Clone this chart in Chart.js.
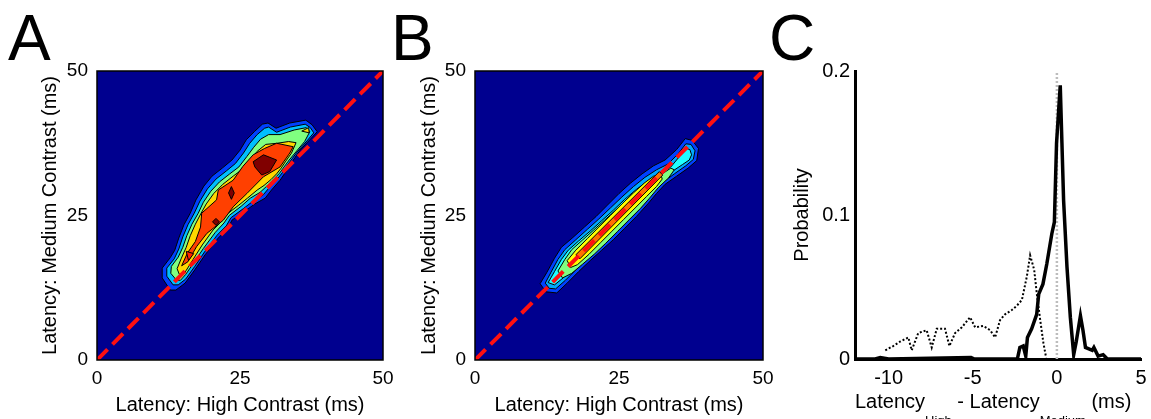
<!DOCTYPE html>
<html>
<head>
<meta charset="utf-8">
<script src="https://cdn.jsdelivr.net/npm/chart.js@4.4.1/dist/chart.umd.min.js"></script>
<style>
html, body { margin: 0; padding: 0; background: #fff; }
#wrap { position: relative; width: 1151px; height: 419px; overflow: hidden; font-family: "Liberation Sans", Arial, sans-serif; color: #000; }
canvas { position: absolute; top: 0; }
.letter { position: absolute; top: 6px; font-size: 64px; line-height: 64px; }
#cLabel { position: absolute; left: 855px; top: 391px; font-size: 20px; line-height: 20px; white-space: nowrap; }
#cLabel sub { font-size: 13px; vertical-align: -17px; }
</style>
</head>
<body>
<div id="wrap">
  <canvas id="chartA" width="401" height="419" style="left:0"></canvas>
  <canvas id="chartB" width="401" height="419" style="left:380px"></canvas>
  <canvas id="chartC" width="394" height="419" style="left:760px"></canvas>
  <div class="letter" style="left:8px">A</div>
  <div class="letter" style="left:391px">B</div>
  <div class="letter" style="left:769px">C</div>
  <div id="cLabel">Latency<sub>High</sub> - Latency<sub>Medium</sub> (ms)</div>
</div>
<script>
// ---- data ----
const latencyTicks = [0, 25, 50];
const diagonal = [[0, 0], [50, 50]];

// panel A contour levels (outer -> inner), [high, medium] in ms
const aBlue = [[12.8,12.1],[11.4,14.2],[11.4,15.9],[12.8,17.7],[13.6,19.0],[14.3,21.1],[15.2,23.4],[16.3,25.4],[17.3,27.7],[18.7,30.1],[20.1,31.8],[21.9,33.2],[23.6,34.6],[25.0,36.3],[26.1,38.1],[27.5,39.5],[28.9,40.8],[29.9,41.0],[31.3,40.1],[33.7,41.0],[36.5,41.5],[37.6,40.7],[38.5,39.5],[37.2,38.1],[35.5,36.3],[34.6,35.0],[33.7,33.7],[32.9,32.4],[32.0,31.1],[30.5,29.4],[29.4,28.0],[27.6,27.0],[25.9,25.8],[23.6,24.2],[22.9,22.8],[21.2,21.1],[18.9,18.2],[17.1,15.6],[15.4,13.3],[13.8,12.1]];
const aLightBlue = [[13.3,13.0],[12.2,14.5],[12.2,15.9],[13.5,17.5],[14.3,19.2],[15.0,21.3],[15.9,23.4],[17.0,25.4],[18.0,27.5],[19.3,29.6],[20.8,31.3],[22.6,32.7],[24.2,34.0],[25.6,35.8],[26.7,37.5],[28.0,39.0],[29.3,40.1],[30.0,40.3],[31.4,39.4],[33.8,40.3],[36.4,40.8],[37.3,40.2],[37.9,39.3],[36.7,37.9],[35.0,36.0],[34.1,34.8],[33.2,33.6],[32.4,32.4],[31.5,31.3],[30.1,29.8],[29.0,28.5],[27.3,27.5],[25.6,26.2],[23.4,24.6],[22.6,23.2],[21.0,21.6],[18.8,18.7],[17.1,16.2],[15.5,14.0],[14.2,13.0]];
const aGreen = [[13.9,13.8],[12.9,15.0],[13.0,16.2],[14.2,17.8],[15.0,19.5],[15.7,21.5],[16.6,23.5],[17.7,25.4],[18.6,27.3],[19.9,29.2],[21.4,30.8],[23.2,32.2],[24.8,33.4],[26.2,35.2],[27.4,36.8],[28.6,38.2],[30.0,39.0],[32.0,39.0],[34.5,39.8],[36.6,40.2],[37.2,39.5],[36.3,37.8],[34.6,35.8],[33.6,34.6],[32.7,33.4],[31.9,32.3],[31.0,31.4],[29.7,30.1],[28.5,29.0],[26.8,28.0],[25.2,26.6],[23.1,25.0],[22.2,23.7],[20.7,22.1],[18.6,19.3],[16.9,16.8],[15.5,14.8],[14.6,13.8]];
const aYellow = [[14.4,14.8],[14.0,15.8],[14.7,17.5],[15.6,19.5],[16.3,21.5],[17.2,23.5],[18.2,25.4],[19.1,27.0],[20.4,28.8],[22.0,30.4],[23.8,31.8],[25.4,33.0],[26.8,34.6],[28.0,36.1],[29.5,37.3],[31.5,37.5],[33.5,37.8],[34.8,37.6],[34.0,35.8],[33.0,34.4],[32.2,33.2],[31.4,32.2],[30.4,31.2],[29.2,30.2],[28.0,29.4],[26.3,28.0],[24.8,26.8],[22.8,25.3],[21.8,24.0],[20.3,22.5],[18.4,19.9],[16.8,17.4],[15.4,15.2]];
const aYellowTip = [[35.8,39.6],[37.0,40.2],[37.1,39.3]];
const aRed = [[14.8,16.3],[15.8,18.5],[17.2,20.5],[18.1,23.0],[18.3,25.4],[20.9,27.7],[21.2,29.4],[23.8,31.1],[25.5,33.5],[27.3,35.5],[29.3,36.6],[31.4,37.5],[34.3,36.9],[33.7,35.8],[32.0,33.4],[29.1,31.7],[26.2,28.8],[23.8,26.5],[22.1,24.2],[19.2,21.9],[17.4,19.6],[15.9,17.0]];
const aRedSpot = [[15.6,18.8],[16.9,18.4],[16.0,17.2]];
const aDarkPeak = [[27.3,34.3],[29.1,35.5],[31.4,34.6],[30.2,32.6],[28.8,32.0],[27.6,33.4]];
const aDarkSpot1 = [[23.5,30.0],[24.0,28.9],[23.5,27.8],[23.0,28.9]];
const aDarkSpot2 = [[20.8,24.5],[21.4,23.9],[20.8,23.3],[20.2,23.9]];

// panel B contour levels
const bBlue = [[11.3,13.2],[12.5,15.2],[13.8,17.6],[15.0,19.5],[17.0,21.2],[19.0,23.0],[21.0,24.8],[23.0,26.8],[25.0,28.8],[27.0,30.6],[29.0,32.2],[31.0,33.6],[33.0,34.6],[35.0,36.4],[36.5,38.3],[37.7,38.0],[38.8,36.6],[38.5,34.5],[37.0,33.2],[35.0,31.8],[33.0,30.4],[31.5,28.8],[30.0,27.0],[28.0,24.8],[26.0,22.8],[24.0,20.8],[22.0,19.0],[20.0,17.2],[18.0,15.3],[16.0,13.3],[14.2,11.6],[12.3,11.8]];
const bLightBlue = [[12.2,13.3],[13.2,15.2],[14.4,17.4],[15.6,19.1],[17.5,20.8],[19.5,22.6],[21.5,24.4],[23.5,26.3],[25.5,28.2],[27.5,30.0],[29.5,31.6],[31.5,32.9],[33.5,33.9],[35.3,35.7],[36.6,37.4],[37.5,37.3],[38.2,36.2],[37.9,34.7],[36.6,33.6],[34.6,32.2],[32.7,30.8],[31.2,29.2],[29.6,27.4],[27.6,25.2],[25.6,23.2],[23.6,21.2],[21.6,19.4],[19.6,17.6],[17.6,15.7],[15.7,13.8],[14.0,12.3],[12.9,12.4]];
const bCyan = [[12.7,13.4],[13.8,15.3],[15.0,17.4],[16.2,19.0],[18.0,20.6],[20.0,22.3],[22.0,24.1],[24.0,25.9],[26.0,27.8],[28.0,29.5],[30.0,31.0],[32.0,32.3],[34.0,33.4],[35.5,35.2],[36.7,36.6],[37.3,36.4],[37.6,35.5],[37.2,34.6],[36.0,33.8],[34.2,32.6],[32.3,31.1],[30.8,29.4],[29.2,27.6],[27.2,25.6],[25.2,23.6],[23.2,21.6],[21.2,19.7],[19.2,17.9],[17.2,16.1],[15.3,14.2],[13.8,13.0]];
const bGreen = [[14.4,15.4],[15.6,17.4],[16.8,19.1],[18.6,20.7],[20.5,22.4],[22.5,24.2],[24.5,26.0],[26.5,27.8],[28.5,29.4],[30.5,30.9],[32.5,32.2],[34.0,33.2],[34.6,32.9],[33.6,31.5],[31.8,29.8],[30.3,28.0],[28.7,26.2],[26.7,24.2],[24.7,22.2],[22.7,20.2],[20.7,18.3],[18.7,16.6],[16.8,15.0],[15.2,14.2]];
const bYellow = [[16.0,17.2],[17.5,19.0],[19.5,21.0],[21.5,23.0],[23.5,25.0],[25.5,27.0],[27.5,28.9],[29.5,30.7],[31.0,31.8],[32.3,32.0],[32.5,31.3],[31.5,30.0],[29.8,28.3],[27.8,26.3],[25.8,24.3],[23.8,22.3],[21.8,20.3],[19.8,18.3],[17.8,16.5],[16.6,16.0]];
const bOrange = [[17.5,18.2],[32.0,32.6],[32.6,32.0],[18.2,17.5]];

// panel C: latency difference distributions
const diffTicks = [-10, -5, 0, 5];
const probTicks = [0, 0.1, 0.2];
const solidX = [-12, -10.8, -10.5, -10, -5.1, -4.9, -2.35, -2.2, -2.0, -1.85, -1.75, -1.5, -1.2, -1.08, -0.83, -0.6, -0.3, -0.15, -0.02, 0.2, 0.3, 0.4, 0.6, 0.8, 1.0, 1.15, 1.4, 1.55, 1.7, 1.9, 2.1, 2.2, 2.45, 2.75, 3.0, 5];
const solidY = [0, 0, 0.001, 0, 0.001, 0, 0, 0.008, 0.009, 0.002, 0.015, 0.021, 0.031, 0.045, 0.052, 0.066, 0.087, 0.095, 0.15, 0.19, 0.15, 0.11, 0.064, 0.029, 0.003, 0.012, 0.03, 0.02, 0.008, 0.007, 0.006, 0.008, 0.002, 0.003, 0, 0];
const dottedX = [-10.2, -9.73, -9.33, -8.83, -8.63, -8.24, -7.74, -7.44, -7.14, -6.65, -6.39, -6.05, -5.65, -5.16, -4.86, -4.37, -3.97, -3.67, -3.38, -3.08, -2.68, -2.38, -2.08, -1.79, -1.59, -1.35, -1.19, -0.99, -0.8, -0.64];
const dottedY = [0.006, 0.009, 0.012, 0.015, 0.006, 0.018, 0.020, 0.008, 0.021, 0.021, 0.009, 0.018, 0.022, 0.029, 0.022, 0.023, 0.020, 0.015, 0.027, 0.031, 0.034, 0.037, 0.041, 0.057, 0.072, 0.062, 0.045, 0.027, 0.011, 0.001];
const zeroLineX = [0, 0];
const zeroLineY = [0, 0.2];

// ---- drawing ----
Chart.defaults.font.family = '"Liberation Sans", Arial, sans-serif';
Chart.defaults.color = '#000';
Chart.defaults.animation = false;
Chart.defaults.plugins.legend.display = false;
Chart.defaults.plugins.tooltip.enabled = false;

const toPoints = arr => arr.map(p => ({ x: p[0], y: p[1] }));

function level(points, color, order) {
    const closed = points.concat([points[0]]);
    return {
        data: toPoints(closed), showLine: true, fill: 'shape',
        backgroundColor: color, borderColor: '#000', borderWidth: 1,
        pointRadius: 0, order: order
    };
}

const navyBox = {
    id: 'navyBox',
    beforeDatasetsDraw(chart) {
        const a = chart.chartArea, ctx = chart.ctx;
        ctx.save();
        ctx.fillStyle = '#00008F';
        ctx.fillRect(a.left, a.top, a.right - a.left, a.bottom - a.top);
        ctx.restore();
    },
    afterDatasetsDraw(chart) {
        const a = chart.chartArea, ctx = chart.ctx;
        ctx.save();
        ctx.strokeStyle = '#000';
        ctx.lineWidth = 1.5;
        ctx.strokeRect(a.left, a.top, a.right - a.left, a.bottom - a.top);
        ctx.restore();
    }
};

function contourChart(id, levels, yWidth, yTitlePad) {
    const datasets = levels.slice();
    datasets.push({
        data: toPoints(diagonal), showLine: true, fill: false,
        borderColor: '#FF1010', borderWidth: 4, borderDash: [15, 7],
        pointRadius: 0, order: 0
    });
    return new Chart(document.getElementById(id), {
        type: 'scatter',
        data: { datasets: datasets },
        options: {
            responsive: false,
            layout: { padding: { top: 71, right: 18, bottom: 0, left: 0 } },
            scales: {
                x: {
                    type: 'linear', min: 0, max: 50,
                    afterBuildTicks: s => { s.ticks = latencyTicks.map(v => ({ value: v })); },
                    afterFit: s => { s.height = 59; },
                    grid: { display: false, drawTicks: false },
                    border: { display: false },
                    ticks: { padding: 7, font: { size: 19 }, color: '#000' },
                    title: { display: true, text: 'Latency: High Contrast (ms)', font: { size: 20 }, color: '#000', padding: { top: 0, bottom: 2 } }
                },
                y: {
                    type: 'linear', min: 0, max: 50,
                    afterBuildTicks: s => { s.ticks = latencyTicks.map(v => ({ value: v })); },
                    afterFit: s => { s.width = yWidth; },
                    grid: { display: false, drawTicks: false },
                    border: { display: false },
                    ticks: { padding: 9, font: { size: 19 }, color: '#000' },
                    title: { display: true, text: 'Latency: Medium Contrast (ms)', font: { size: 20 }, color: '#000', padding: { top: yTitlePad, bottom: 0 } }
                }
            }
        },
        plugins: [navyBox]
    });
}

contourChart('chartA', [
    level(aBlue, '#0040FF', 20),
    level(aLightBlue, '#00BFFF', 19),
    level(aGreen, '#80FF80', 18),
    level(aYellow, '#FFD800', 17),
    level(aYellowTip, '#FFD800', 16),
    level(aRed, '#FF4000', 15),
    level(aRedSpot, '#FF2000', 14),
    level(aDarkPeak, '#800000', 13),
    level(aDarkSpot1, '#800000', 12),
    level(aDarkSpot2, '#800000', 11)
], 97, 38);

contourChart('chartB', [
    level(bBlue, '#0040FF', 20),
    level(bLightBlue, '#00A8FF', 19),
    level(bCyan, '#20FFFF', 18),
    level(bGreen, '#80FF80', 17),
    level(bYellow, '#FFFF00', 16),
    level(bOrange, '#FF7000', 15)
], 95, 37);

const zip = (xs, ys) => xs.map((x, i) => ({ x: x, y: ys[i] }));

new Chart(document.getElementById('chartC'), {
    type: 'scatter',
    data: {
        datasets: [
            { data: zip(solidX, solidY), showLine: true, borderColor: '#000', borderWidth: 3.5, pointRadius: 0, order: 0 },
            { data: zip(dottedX, dottedY), showLine: true, borderColor: '#000', borderWidth: 2, borderDash: [2, 2], pointRadius: 0, order: 1 },
            { data: zip(zeroLineX, zeroLineY), showLine: true, borderColor: '#BDBDBD', borderWidth: 2.5, borderDash: [2, 2], pointRadius: 0, order: 2 }
        ]
    },
    options: {
        responsive: false,
        layout: { padding: { top: 71, right: 13, bottom: 0, left: 0 } },
        scales: {
            x: {
                type: 'linear', min: -12, max: 5,
                afterBuildTicks: s => { s.ticks = diffTicks.map(v => ({ value: v })); },
                afterFit: s => { s.height = 60; },
                grid: { display: false, drawTicks: false },
                border: { display: true, color: '#000', width: 3 },
                ticks: { padding: 7, font: { size: 20 }, color: '#000' },
                title: { display: false }
            },
            y: {
                type: 'linear', min: 0, max: 0.2,
                afterBuildTicks: s => { s.ticks = probTicks.map(v => ({ value: v })); },
                afterFit: s => { s.width = 95; },
                grid: { display: false, drawTicks: false },
                border: { display: true, color: '#000', width: 3 },
                ticks: { padding: 5, font: { size: 20 }, color: '#000', callback: v => String(v) },
                title: { display: true, text: 'Probability', font: { size: 20 }, color: '#000', padding: { top: 30, bottom: 0 } }
            }
        }
    }
});
</script>
</body>
</html>
